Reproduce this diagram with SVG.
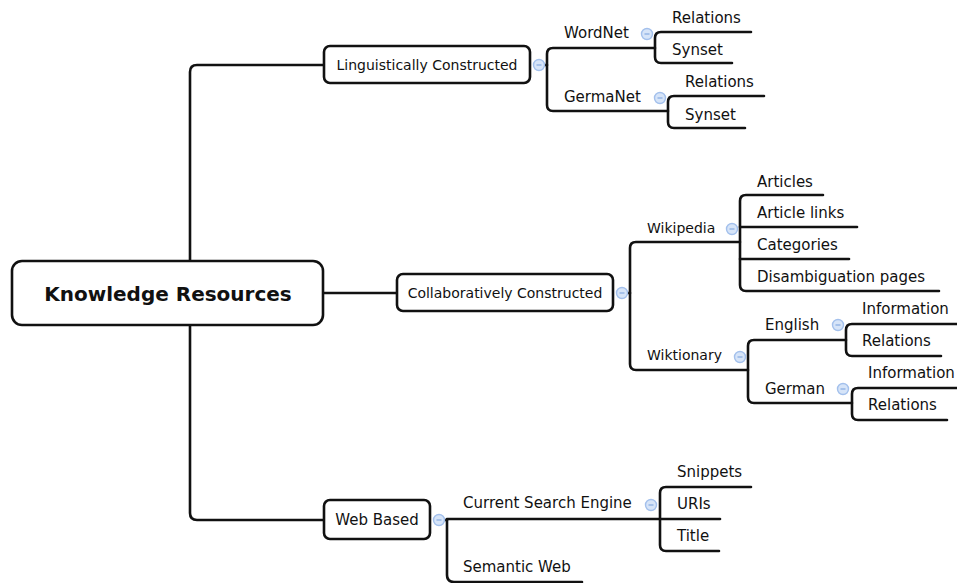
<svg xmlns="http://www.w3.org/2000/svg" width="957" height="583" viewBox="0 0 957 583">
<defs>
<style>
.c{fill:none;stroke:#111;stroke-width:2.6;stroke-linecap:round;stroke-linejoin:round}
.b{fill:#fff;stroke:#111;stroke-width:2.6}
.t{font-family:"DejaVu Sans","Noto Sans",sans-serif;fill:#111;font-size:15px}
.s{font-size:14px}
.r{font-size:20px;font-weight:bold}
.o{fill:#d6e4f8;stroke:#a3c0ec;stroke-width:1.4}
.m{stroke:#8aaee2;stroke-width:1.3}
</style>
<g id="tog">
<circle class="o" r="5.5" cx="0" cy="0"/>
<line class="m" x1="-2.5" y1="0" x2="2.5" y2="0"/>
</g>
</defs>
<rect width="957" height="583" fill="#fff"/>
<g id="connectors">
<path class="c" d="M190 261 V72 Q190 65 197 65 H324"/>
<path class="c" d="M190 325 V513 Q190 520 197 520 H324"/>
<path class="c" d="M323 293 H397"/>
<path class="c" d="M544 65 H547"/>
<path class="c" d="M655 48 H553 Q547 48 547 54 V105 Q547 111 553 111 H668"/>
<path class="c" d="M751 32 H661 Q655 32 655 38 V57 Q655 63 661 63 H732"/>
<path class="c" d="M764 96 H674 Q668 96 668 102 V122 Q668 128 674 128 H745"/>
<path class="c" d="M627 293 H630"/>
<path class="c" d="M740 242 H636 Q630 242 630 248 V364 Q630 370 636 370 H748"/>
<path class="c" d="M823 195 H746 Q740 195 740 201 V285 Q740 291 746 291 H939"/>
<path class="c" d="M740 227 H857"/>
<path class="c" d="M740 259 H849"/>
<path class="c" d="M846 340 H754 Q748 340 748 346 V397 Q748 403 754 403 H852"/>
<path class="c" d="M958 324 H852 Q846 324 846 330 V350 Q846 356 852 356 H941"/>
<path class="c" d="M958 388 H858 Q852 388 852 394 V414 Q852 420 858 420 H947"/>
<path class="c" d="M444 520 H447"/>
<path class="c" d="M660 519 H447 V575 Q447 582 454 582 H582"/>
<path class="c" d="M751 487 H666 Q660 487 660 493 V545 Q660 551 666 551 H719"/>
<path class="c" d="M660 519 H720"/>
</g>
<g id="root">
<rect class="b" x="12" y="261" width="311" height="64" rx="10"/>
<text class="t r" x="168" y="301" text-anchor="middle">Knowledge Resources</text>
</g>
<g id="ling">
<rect class="b" x="324" y="46" width="206" height="37" rx="6"/>
<text class="t s" x="427" y="70" text-anchor="middle">Linguistically Constructed</text>
<use href="#tog" x="539" y="65"/>
</g>
<g id="wordnet">
<text class="t" x="564" y="38">WordNet</text>
<use href="#tog" x="647" y="34"/>
</g>
<g id="wordnet-rel"><text class="t" x="672" y="23">Relations</text></g>
<g id="wordnet-syn"><text class="t" x="672" y="55">Synset</text></g>
<g id="germanet">
<text class="t" x="564" y="102">GermaNet</text>
<use href="#tog" x="660" y="98"/>
</g>
<g id="germanet-rel"><text class="t" x="685" y="87">Relations</text></g>
<g id="germanet-syn"><text class="t" x="685" y="120">Synset</text></g>
<g id="collab">
<rect class="b" x="397" y="274" width="216" height="37" rx="6"/>
<text class="t s" x="505" y="298" text-anchor="middle">Collaboratively Constructed</text>
<use href="#tog" x="622" y="293"/>
</g>
<g id="wikipedia">
<text class="t s" x="647" y="233">Wikipedia</text>
<use href="#tog" x="732" y="229"/>
</g>
<g id="wp-articles"><text class="t" x="757" y="187">Articles</text></g>
<g id="wp-links"><text class="t" x="757" y="218">Article links</text></g>
<g id="wp-cat"><text class="t" x="757" y="250">Categories</text></g>
<g id="wp-dis"><text class="t" x="757" y="282">Disambiguation pages</text></g>
<g id="wiktionary">
<text class="t s" x="647" y="360">Wiktionary</text>
<use href="#tog" x="740" y="357"/>
</g>
<g id="english">
<text class="t" x="765" y="330">English</text>
<use href="#tog" x="838" y="325"/>
</g>
<g id="en-info"><text class="t" x="862" y="314">Information</text></g>
<g id="en-rel"><text class="t" x="862" y="346">Relations</text></g>
<g id="german">
<text class="t" x="765" y="394">German</text>
<use href="#tog" x="843" y="389"/>
</g>
<g id="de-info"><text class="t" x="868" y="378">Information</text></g>
<g id="de-rel"><text class="t" x="868" y="410">Relations</text></g>
<g id="web">
<rect class="b" x="324" y="500" width="106" height="39" rx="6"/>
<text class="t" x="377" y="525" text-anchor="middle">Web Based</text>
<use href="#tog" x="439" y="520"/>
</g>
<g id="cse">
<text class="t" x="463" y="508">Current Search Engine</text>
<use href="#tog" x="651" y="505"/>
</g>
<g id="cse-snip"><text class="t" x="677" y="477">Snippets</text></g>
<g id="cse-uri"><text class="t" x="677" y="509">URIs</text></g>
<g id="cse-title"><text class="t" x="677" y="541">Title</text></g>
<g id="semweb"><text class="t" x="463" y="572">Semantic Web</text></g>
</svg>
